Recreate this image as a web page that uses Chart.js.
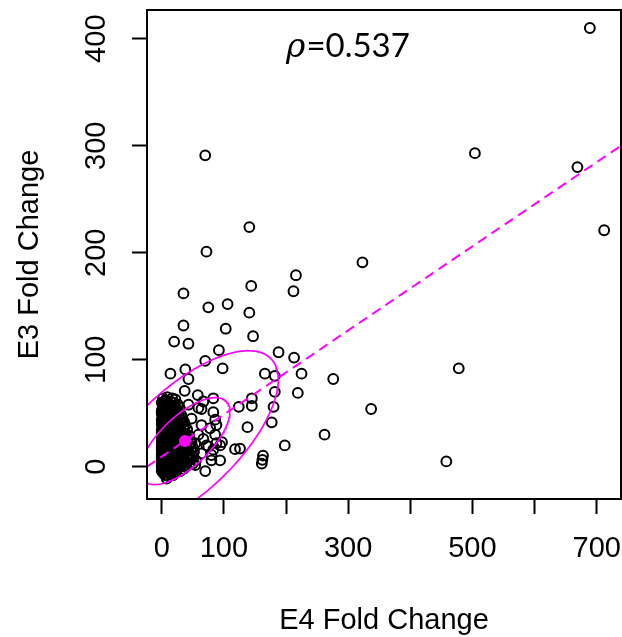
<!DOCTYPE html>
<html><head><meta charset="utf-8">
<script src="https://cdn.jsdelivr.net/npm/chart.js@4/dist/chart.umd.min.js"></script>
<style>html,body{margin:0;padding:0;background:#fff;}canvas{display:block}</style>
</head><body>
<canvas id="c" width="622" height="637"></canvas>
<script>
// ---- data ----
// scattered points (E4 fold change, E3 fold change)
const e4Outer = [689,70,504,669,141,712,72,323,216,144,212,35,106,75,141,35,103,147,20,43,92,188,213,70,14,38,98,166,182,225,478,276,43,182,219,37,58,83,145,145,124,180,64,337,177,138,262,198,118,163,162,161,458,8,94,94,88,86,80,67,83,78,86,72,83,64,80,54,70,43,59,48,64,59,54,67,126,97,75,88];
const e3Outer = [410,291,293,280,224,221,201,191,179,169,164,162,152,149,144,132,129,122,117,115,109,107,102,99,87,91,92,87,85,87,92,82,82,70,69,71,67,64,64,57,56,56,54,54,41.5,37,30,20,16.5,10.5,6.5,3,5,-11,20,6,39,44,11,61,51,36,30,20,16,12.5,6,1.6,-4,58,55,45,39,30,22,26,17,23,19,22];
// dense core near the origin
const e4Core = [6,14,22, 3,10,17,26, 1,7,13,20,29, 0,5,10,16,23,31, 2,6,11,17,24,33, 0,4,8,13,19,26,36, 1,5,9,14,20,28,38, 0,3,7,11,16,22,30,41, 1,4,8,12,17,24,32,44, 0,3,6,10,14,19,26,35,46, 1,4,7,11,15,21,28,37,48, 0,2,5,9,13,18,24,31,40,50, 1,4,7,11,16,21,27,34,43,52, 0,3,6,10,14,19,25,32,40,49, 1,4,8,12,17,23,30,38,47,55, 0,3,6,10,15,21,28,36,45, 1,5,9,14,20,27,35, 3,8,14,22,
  2,9,17, 0,4,8,12,19, 2,5,9,15,22, 0,3,8,12,19,26, 1,4,8,14,20,28, 0,2,6,10,15,22,30, 0,3,7,11,17,24,32, 1,2,5,9,13,19,26,35, 0,2,6,10,14,20,28,38, 0,2,5,8,12,16,22,30,40, 0,2,5,9,13,17,24,32,42, 0,3,6,10,16,22,29,35,44, 0,2,5,9,14,19,25,30,38,47, 0,2,5,8,12,17,23,29,36,45, 0,2,6,10,15,21,27,34,42,51, 0,2,5,9,13,19,25,33,41,50, 0,2,4,8,12,18,24,31,39, 0,3,7,11,16,23,30, 6,11,18];
const e3Core = [62,61,63, 58,59,57,58, 54,55,53,54,55, 50,51,49,50,51,49, 46,45,47,46,45,46, 42,43,41,42,43,41,42, 38,37,39,38,37,39,38, 34,35,33,34,35,33,34,35, 30,29,31,30,29,31,30,29, 26,27,25,26,27,25,26,27,25, 22,21,23,22,21,23,22,21,23, 18,19,17,18,19,17,18,19,17,18, 14,13,15,14,13,15,14,13,15,14, 10,11,9,10,11,9,10,11,9,10, 6,5,7,6,5,7,6,5,7,6, 2,1,3,2,1,3,2,1,3, -2,-3,-1,-2,-3,-1,-2, -6,-5,-7,-5,
  64,65,64, 60,61,60,59,60, 56,57,56,55,56, 52,53,52,51,52,53, 48,47,48,49,48,47, 44,45,44,43,44,45,44, 40,41,40,39,40,41,40, 36,35,36,37,36,35,36,37, 32,33,32,31,32,33,32,31, 28,29,28,27,28,29,28,27,28, 24,25,24,23,24,25,24,23,24, 20,19,20,21,20,19,20,21,20, 16,17,16,15,16,17,16,15,16,17, 12,11,12,13,12,11,12,13,12,11, 8,9,8,7,8,9,8,7,8,9, 4,3,4,5,4,3,4,5,4,3, 0,-1,0,1,0,-1,0,1,0, -4,-5,-4,-3,-4,-5,-4, -8,-9,-8];
// axis ticks / labels
const xTickValues = [0,100,200,300,400,500,600,700];
const xTickLabels = ['0','100','','300','','500','','700'];
const yTickValues = [0,100,200,300,400];
const yTickLabels = ['0','100','200','300','400'];
const xTitle = 'E4 Fold Change';
const yTitle = 'E3 Fold Change';
const rhoSymbol = 'ρ';
const rhoValue = '=0.537';
// fitted annotations (estimated)
const centerPoint = [37.5, 24];
const ellipseSd = [61.3, 34.5];
const ellipseCor = 0.68;
const ellipseRadii = [1.177, 2.448];
const fitIntercept = 9.5;
const fitSlope = 0.393;
const xRange = [-23.7, 739.1];
const yRange = [-30.1, 426.8];

// ---- build ----
const FONT = "'Liberation Sans', Arial, sans-serif";
const MAG = '#ff00ff';
const allX = e4Outer.concat(e4Core), allY = e3Outer.concat(e3Core);
const points = allX.map((x, i) => ({x, y: allY[i]}));

function ellipse(R) {
  const out = [];
  const n = 180, s = Math.sqrt(1 - ellipseCor * ellipseCor);
  for (let i = 0; i <= n; i++) {
    const t = 2 * Math.PI * i / n;
    out.push({
      x: centerPoint[0] + R * ellipseSd[0] * Math.cos(t),
      y: centerPoint[1] + R * ellipseSd[1] * (ellipseCor * Math.cos(t) + s * Math.sin(t))
    });
  }
  return out;
}
const fitLine = xRange.map(x => ({x, y: fitIntercept + fitSlope * x}));

const boxPlugin = {
  id: 'box',
  afterDraw(chart) {
    const {ctx, chartArea: a} = chart;
    ctx.save();
    ctx.strokeStyle = '#000'; ctx.lineWidth = 2;
    ctx.strokeRect(a.left, a.top, a.right - a.left, a.bottom - a.top);
    ctx.fillStyle = '#000';
    ctx.textBaseline = 'alphabetic';
    ctx.textAlign = 'left';
    ctx.font = "italic 33px 'DejaVu Serif', serif";
    const x0 = 286, yb = 57;
    ctx.fillText(rhoSymbol, x0, yb);
    const w = ctx.measureText(rhoSymbol).width;
    ctx.font = "33px Lato, 'Open Sans', sans-serif";
    ctx.fillText(rhoValue, x0 + w + 1, yb);
    ctx.restore();
  }
};
function noPad(s) { s.paddingTop = 0; s.paddingBottom = 0; s.paddingLeft = 0; s.paddingRight = 0; }

new Chart(document.getElementById('c'), {
  type: 'scatter',
  data: {
    datasets: [
      {type: 'scatter', data: [{x: centerPoint[0], y: centerPoint[1]}], pointRadius: 6, backgroundColor: MAG, borderColor: MAG, borderWidth: 0, order: 0},
      {type: 'line', data: fitLine, borderColor: MAG, borderWidth: 2, borderDash: [10, 6], pointRadius: 0, fill: false, tension: 0, order: 1, clip: 0},
      {type: 'line', data: ellipse(ellipseRadii[0]), borderColor: MAG, borderWidth: 1.7, pointRadius: 0, fill: false, tension: 0, order: 2, clip: 0},
      {type: 'line', data: ellipse(ellipseRadii[1]), borderColor: MAG, borderWidth: 1.7, pointRadius: 0, fill: false, tension: 0, order: 3, clip: 0},
      {type: 'scatter', data: points, pointRadius: 4.9, borderColor: '#000', borderWidth: 2, backgroundColor: 'rgba(0,0,0,0)', order: 4, clip: false}
    ]
  },
  options: {
    responsive: false,
    animation: false,
    events: [],
    layout: {autoPadding: false, padding: {left: 0, right: 1, top: 10, bottom: 0}},
    plugins: {legend: {display: false}, tooltip: {enabled: false}},
    scales: {
      x: {
        type: 'linear', position: 'bottom', min: xRange[0], max: xRange[1],
        afterBuildTicks: s => { s.ticks = xTickValues.map(v => ({value: v})); },
        afterFit: s => { s.height = 138; noPad(s); },
        ticks: {autoSkip: false, minRotation: 0, maxRotation: 0, padding: 18, color: '#000',
          font: {family: FONT, size: 29},
          callback: v => { const i = xTickValues.indexOf(v); return i >= 0 ? xTickLabels[i] : ''; }},
        grid: {display: true, drawOnChartArea: false, drawTicks: true, tickLength: 15, tickWidth: 2, tickColor: '#000'},
        border: {display: false},
        title: {display: true, text: xTitle, color: '#000', font: {family: FONT, size: 29, lineHeight: 1}, padding: {top: 0, bottom: 2}}
      },
      y: {
        type: 'linear', position: 'left', min: yRange[0], max: yRange[1],
        afterBuildTicks: s => { s.ticks = yTickValues.map(v => ({value: v})); },
        afterFit: s => { s.width = 147; noPad(s); },
        ticks: {autoSkip: false, minRotation: 90, maxRotation: 90, crossAlign: 'center', padding: 11, color: '#000',
          font: {family: FONT, size: 29},
          callback: v => { const i = yTickValues.indexOf(v); return i >= 0 ? yTickLabels[i] : ''; }},
        grid: {display: true, drawOnChartArea: false, drawTicks: true, tickLength: 15, tickWidth: 2, tickColor: '#000'},
        border: {display: false},
        title: {display: true, text: yTitle, color: '#000', font: {family: FONT, size: 29, lineHeight: 1}, padding: {top: 15, bottom: 0}}
      }
    }
  },
  plugins: [boxPlugin]
});
</script>
</body></html>
